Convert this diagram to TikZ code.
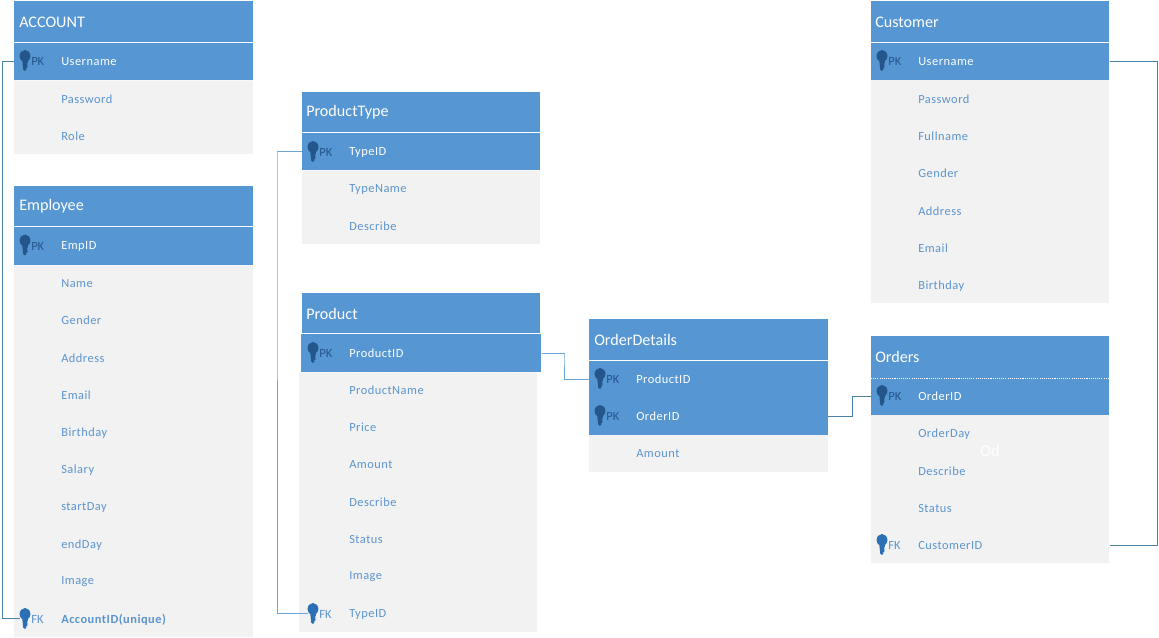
\documentclass[tikz,border=0pt]{standalone}
\usepackage{fontspec}
\setmainfont{Carlito}
\newfontfamily\fieldfont[LetterSpace=4]{Carlito}
\definecolor{hdrblue}{HTML}{5596D3}
\definecolor{bodygray}{HTML}{F2F2F2}
\definecolor{fieldblue}{HTML}{5B94CE}
\definecolor{keydark}{HTML}{24568C}
\definecolor{keylight}{HTML}{2B70B5}
\definecolor{linksteel}{HTML}{4A82A6}
\definecolor{linkblue}{HTML}{6BA5DA}
\tikzset{
  x=0.75pt,y=-0.75pt,
  titletext/.style={text=white,font=\fontsize{12.1}{14}\selectfont,inner sep=0pt,anchor=west},
  fieldtext/.style={text=fieldblue,font=\fontsize{9.3}{11}\fieldfont,inner sep=0pt,anchor=west},
  pktext/.style={fieldtext,text=white},
  keylabel/.style={font=\fontsize{9.4}{11}\selectfont,inner sep=0pt,anchor=west},
  link/.style={draw=linksteel,line width=0.7pt},
  linklight/.style={draw=linkblue,line width=0.7pt},
  seam/.style={draw=white,line width=0.6pt,dash pattern=on 0.8pt off 0.8pt},
}
\newcommand{\keyicon}[4]{% name, x, y, colour
  \fill[#4] (#2,#3-4) ellipse[x radius=5.4,y radius=6];
  \fill[#4] (#2-2.8,#3) -- (#2+2.8,#3) -- (#2+2.8,#3+3) -- (#2+1.4,#3+4) -- (#2+3,#3+5)
     -- (#2+1.4,#3+6) -- (#2+3,#3+7) -- (#2+1.4,#3+8) -- (#2+1.4,#3+9.5) -- (#2,#3+11) -- (#2-1.8,#3+9.5) -- cycle;
  \coordinate (#1) at (#2-5,#3);
}
\newcommand{\boxat}[6]{% name, x1, y1, x2, y2, colour
  \node[fill=#6,draw=none,inner sep=0pt,anchor=north west,
        minimum width={(#4-#2)*0.75pt},minimum height={(#5-#3)*0.75pt}] (#1) at (#2,#3) {};
}
\newcommand{\fields}[3]{% table, x, list
  \foreach \yy/\tt in {#3} { \node[fieldtext] (#1-\yy) at (#2,\yy+0.7) {\tt}; }
}
\newcommand{\pkfield}[5]{% name, key x, y, text x, text
  \keyicon{#1key}{#2+1}{#3-1}{keydark}
  \node[keylabel,text=keydark] (#1lab) at (#2+7,#3+0.5) {PK};
  \node[pktext] (#1text) at (#4,#3+0.7) {#5};
}
\newcommand{\fkfield}[5]{% name, key x, y, text x, text
  \keyicon{#1key}{#2+1}{#3-1}{keylight}
  \node[keylabel,text=fieldblue] (#1lab) at (#2+7,#3+0.5) {FK};
  \node[fieldtext] (#1text) at (#4,#3+0.7) {#5};
}
\begin{document}
\begin{tikzpicture}
\useasboundingbox (0,0) rectangle (1159,638);
\fill[white] (0,0) rectangle (1159,638);

% ACCOUNT
\boxat{acctbody}{14}{80}{253}{154}{bodygray}
\boxat{accthead}{14}{1}{253}{42}{hdrblue}
\boxat{acctpk}{14}{43}{253}{80}{hdrblue}
\node[titletext] (accttitle) at (19,22.5) {ACCOUNT};
\pkfield{acctu}{24}{61}{61}{Username}
\fields{acct}{61}{99/Password,136/Role}

% Employee
\boxat{empbody}{14}{265}{253}{637}{bodygray}
\boxat{emphead}{14}{186}{253}{226}{hdrblue}
\boxat{emppk}{14}{227}{253}{265}{hdrblue}
\node[titletext] (emptitle) at (19,206.5) {Employee};
\pkfield{empid}{24}{245.5}{61}{EmpID}
\fields{emp}{61}{283/Name,320/Gender,357.5/Address,395/Email,432/Birthday,469/Salary,507/startDay,544/endDay,581/Image}
\fkfield{empfk}{24}{619}{61}{\textbf{AccountID(unique)}}

% ProductType
\boxat{ptbody}{302}{170}{540}{244}{bodygray}
\boxat{pthead}{302}{92}{540}{132}{hdrblue}
\boxat{ptpk}{302}{133}{540}{170}{hdrblue}
\node[titletext] (pttitle) at (306,112.5) {ProductType};
\pkfield{ptid}{312}{152}{349}{TypeID}
\fields{pt}{349}{189/TypeName,226/Describe}

% Product
\boxat{prodbody}{299}{372}{537}{632}{bodygray}
\boxat{prodhead}{302}{293}{540}{333}{hdrblue}
\boxat{prodpk}{301}{334}{541}{372}{hdrblue}
\node[titletext] (prodtitle) at (306,313.5) {Product};
\pkfield{prodid}{312}{353}{349}{ProductID}
\fields{prod}{349}{390/ProductName,427/Price,464/Amount,502/Describe,539/Status,576/Image}
\fkfield{prodfk}{312}{614}{349}{TypeID}

% OrderDetails
\boxat{odbody}{589}{435}{828}{472}{bodygray}
\boxat{odhead}{589}{319}{828}{360}{hdrblue}
\boxat{odpk}{589}{361}{828}{435}{hdrblue}
\coordinate (odpkA) at (589,379);
\coordinate (odpkB) at (828,416);
\node[titletext] (odtitle) at (594,339.5) {OrderDetails};
\pkfield{odprod}{599}{379}{636}{ProductID}
\pkfield{odord}{599}{416}{636}{OrderID}
\fields{od}{636}{453/Amount}

% Customer
\boxat{custbody}{871}{80}{1109}{303}{bodygray}
\boxat{custhead}{871}{1}{1109}{42}{hdrblue}
\boxat{custpk}{871}{43}{1109}{80}{hdrblue}
\node[titletext] (custtitle) at (875,22.5) {Customer};
\pkfield{custu}{881}{61}{918}{Username}
\fields{cust}{918}{99/Password,136/Fullname,173/Gender,211/Address,248/Email,285/Birthday}

% Orders
\boxat{ordbody}{871}{415}{1109}{563}{bodygray}
\boxat{ordhead}{871}{336}{1109}{378}{hdrblue}
\boxat{ordpk}{871}{378}{1109}{415}{hdrblue}
\node[titletext] (ordtitle) at (875,356.5) {Orders};
\pkfield{ordid}{881}{396}{918}{OrderID}
\fields{ord}{918}{433/OrderDay,471/Describe,508/Status}
\fkfield{ordfk}{881}{545}{918}{CustomerID}
\node[fieldtext,text=white,font=\fontsize{12.1}{14}\selectfont,anchor=center] (ordghost) at (990,451) {Od};

% seams
\draw[seam] (acctpk.south west) -- (acctpk.south east);
\draw[seam] (emppk.south west) -- (emppk.south east);
\draw[seam] (ptpk.south west) -- (ptpk.south east);
\draw[seam] (prodpk.south west) -- (prodpk.south east);
\draw[seam] (ordpk.north west) -- (ordpk.north east);

% connectors
\draw[link] (acctpk.west) -| ([xshift=-9pt]acctpk.west) |- (empfkkey);
\draw[linklight] (ptpk.west) -| (277,152) |- (prodfkkey);
\draw[linklight] (prodpk.east) -| (564,353) |- (odpkA);
\draw[link] (odpkB) -| (852,416) |- (ordpk.west);
\draw[link] (custpk.east) -| (1157,61) |- (ordbody.east |- ordfktext);
\end{tikzpicture}
\end{document}
